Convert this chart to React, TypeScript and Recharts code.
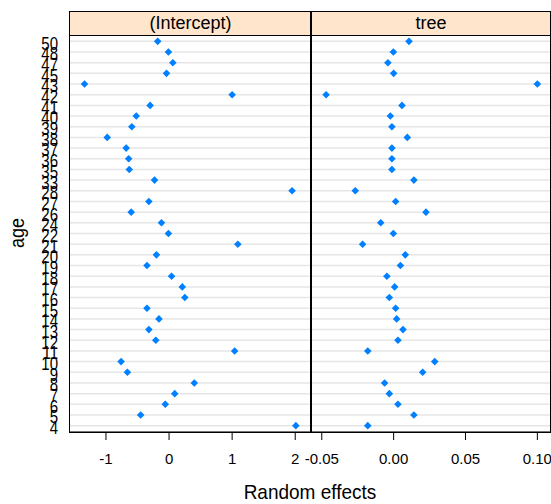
import React from 'react';
import { ScatterChart, Scatter, XAxis, YAxis, CartesianGrid } from 'recharts';

// age levels, top to bottom as in the plot
const ages = [
  '50', '48', '47', '45', '43', '42', '41', '40', '39', '38',
  '37', '36', '35', '33', '28', '27', '26', '24', '22', '21',
  '20', '19', '18', '17', '16', '15', '14', '13', '12', '11',
  '10', '9', '8', '7', '6', '5', '4',
];

const interceptEffects = [
  -0.18, -0.01, 0.06, -0.04, -1.34, 1.0, -0.3, -0.52, -0.59, -0.98,
  -0.68, -0.64, -0.63, -0.23, 1.95, -0.32, -0.6, -0.12, -0.01, 1.09,
  -0.2, -0.35, 0.04, 0.21, 0.25, -0.35, -0.16, -0.32, -0.21, 1.04,
  -0.76, -0.66, 0.4, 0.09, -0.06, -0.45, 2.01,
];

const treeEffects = [
  0.0107, -0.0002, -0.004, 0.0, 0.1, -0.047, 0.0058, -0.0023, -0.0012, 0.0095,
  -0.0012, -0.0012, -0.0012, 0.0141, -0.0267, 0.0014, 0.0225, -0.009, -0.0002, -0.0216,
  0.0081, 0.0047, -0.0047, 0.0007, -0.003, 0.0014, 0.0021, 0.0065, 0.003, -0.018,
  0.0286, 0.0202, -0.0063, -0.003, 0.003, 0.0141, -0.018,
];

const interceptTicks = [-1, 0, 1, 2];
const treeTicks = [-0.05, 0, 0.05, 0.1];

const interceptData = ages.map((age, i) => ({ age, value: interceptEffects[i] }));
const treeData = ages.map((age, i) => ({ age, value: treeEffects[i] }));

const FONT = '"Liberation Sans", Arial, sans-serif';
const DOT = '#0080ff';

const Diamond = (props: any) => {
  const { cx, cy } = props;
  const r = 3.8;
  return (
    <polygon
      points={`${cx},${cy - r} ${cx + r},${cy} ${cx},${cy + r} ${cx - r},${cy}`}
      fill={DOT}
    />
  );
};

// lattice text is a little taller than wide, stretch it a bit
const AgeTick = (props: any) => {
  const { x, y, payload } = props;
  return (
    <text
      transform={`translate(${x},${y + 2}) scale(1,1.2)`}
      textAnchor="end"
      dy="0.355em"
      fontSize={15}
      fontFamily={FONT}
      fill="#000"
    >
      {payload.value}
    </text>
  );
};

interface PanelProps {
  data: { age: string; value: number }[];
  ticks: number[];
  domain: [number, number];
  left: number;
  width: number;
  marginLeft: number;
  showY: boolean;
  fmt: (v: number) => string;
}

const Panel = ({ data, ticks, domain, left, width, marginLeft, showY, fmt }: PanelProps) => (
  <div style={{ position: 'absolute', left, top: 0 }}>
    <ScatterChart width={width} height={504} margin={{ top: 35, right: 1, bottom: 0, left: marginLeft }}>
      <CartesianGrid horizontal vertical={false} stroke="#e6e6e6" strokeWidth={1.5} />
      <XAxis
        type="number"
        dataKey="value"
        domain={domain}
        ticks={ticks}
        allowDataOverflow
        interval={0}
        height={72}
        tickSize={8}
        tickMargin={13}
        stroke="#000"
        tick={{ fontSize: 15, fill: '#000', fontFamily: FONT }}
        tickFormatter={fmt}
      />
      <YAxis
        type="category"
        dataKey="age"
        reversed
        hide={!showY}
        width={showY ? 70 : 0}
        interval={0}
        padding={{ top: 1, bottom: 1 }}
        axisLine={false}
        tickLine={false}
        tickSize={6}
        tickMargin={6}
        tick={<AgeTick />}
      />
      <Scatter data={data} shape={<Diamond />} isAnimationActive={false} />
    </ScatterChart>
  </div>
);

const stripStyle = (left: number, width: number): React.CSSProperties => ({
  position: 'absolute',
  left,
  top: 11,
  width,
  height: 25,
  boxSizing: 'border-box',
  background: '#ffe5cc',
  border: '1px solid #000',
  display: 'flex',
  alignItems: 'center',
  justifyContent: 'center',
  fontFamily: FONT,
  fontSize: 18,
  color: '#000',
});

const frameStyle = (left: number, width: number): React.CSSProperties => ({
  position: 'absolute',
  left,
  top: 11,
  width,
  height: 422,
  boxSizing: 'border-box',
  border: '1px solid #000',
  pointerEvents: 'none',
});

export default function App() {
  return (
    <div style={{ position: 'absolute', left: 0, top: 0, width: 551, height: 504, background: '#fff', overflow: 'hidden' }}>
      <Panel
        data={interceptData}
        ticks={interceptTicks}
        domain={[-1.57, 2.25]}
        left={0}
        width={312}
        marginLeft={0}
        showY
        fmt={(v) => String(v)}
      />
      <Panel
        data={treeData}
        ticks={treeTicks}
        domain={[-0.0575, 0.1088]}
        left={271}
        width={280}
        marginLeft={40}
        showY={false}
        fmt={(v) => v.toFixed(2)}
      />
      <div style={stripStyle(69, 243)}>(Intercept)</div>
      <div style={stripStyle(311, 240)}>tree</div>
      <div style={frameStyle(69, 243)} />
      <div style={frameStyle(311, 240)} />
      <div style={{ position: 'absolute', left: 310, top: 11, width: 2, height: 422, background: '#000' }} />
      <div
        style={{
          position: 'absolute',
          left: 18,
          top: 233,
          transform: 'translate(-50%, -50%) rotate(-90deg) scale(1,1.15)',
          fontFamily: FONT,
          fontSize: 18,
          color: '#000',
          whiteSpace: 'nowrap',
        }}
      >
        age
      </div>
      <div
        style={{
          position: 'absolute',
          left: 310,
          top: 492,
          transform: 'translate(-50%, -50%) scale(1,1.1)',
          fontFamily: FONT,
          fontSize: 19,
          color: '#000',
          whiteSpace: 'nowrap',
        }}
      >
        Random effects
      </div>
    </div>
  );
}
